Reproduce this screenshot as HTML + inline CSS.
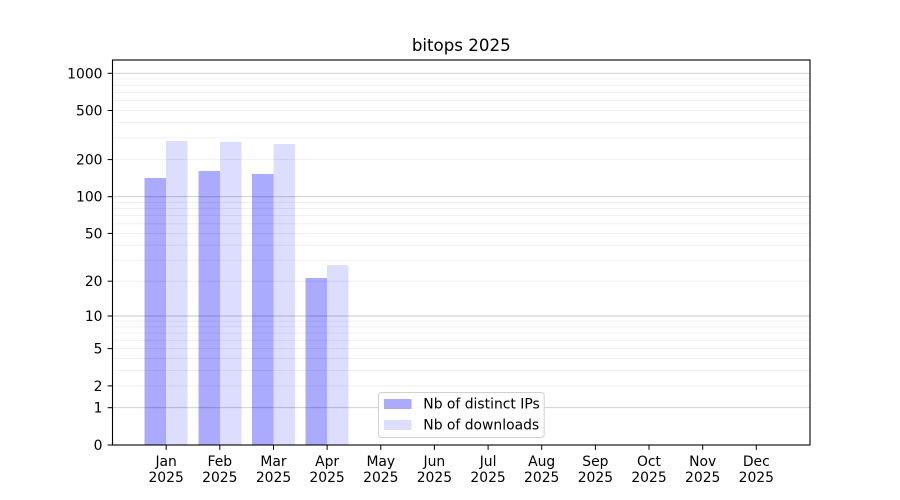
<!DOCTYPE html>
<html><head><meta charset="utf-8"><style>
html,body{margin:0;padding:0;background:#fff;}
svg{display:block;font-family:"DejaVu Sans","Liberation Sans",sans-serif;}
</style></head><body>
<svg width="900" height="500" viewBox="0 0 900 500" xmlns="http://www.w3.org/2000/svg">
<rect width="900" height="500" fill="#fff"/>
<!-- bars -->
<g shape-rendering="crispEdges">
<rect x="144.7" y="178" width="21.45" height="267" fill="#aaaaff"/>
<rect x="166.15" y="141" width="21.45" height="304" fill="#ddddff"/>
<rect x="198.35" y="171" width="21.45" height="274" fill="#aaaaff"/>
<rect x="219.8" y="142" width="21.45" height="303" fill="#ddddff"/>
<rect x="252.05" y="174" width="21.45" height="271" fill="#aaaaff"/>
<rect x="273.5" y="144" width="21.45" height="301" fill="#ddddff"/>
<rect x="305.65" y="278" width="21.45" height="167" fill="#aaaaff"/>
<rect x="327.1" y="265" width="21.45" height="180" fill="#ddddff"/>
</g>
<!-- minor grid -->
<g stroke="rgba(0,0,0,0.075)" stroke-width="0.8">
<line x1="112.5" x2="810" y1="385.9" y2="385.9"/>
<line x1="112.5" x2="810" y1="370.4" y2="370.4"/>
<line x1="112.5" x2="810" y1="358.4" y2="358.4"/>
<line x1="112.5" x2="810" y1="348.6" y2="348.6"/>
<line x1="112.5" x2="810" y1="340.3" y2="340.3"/>
<line x1="112.5" x2="810" y1="333.1" y2="333.1"/>
<line x1="112.5" x2="810" y1="326.8" y2="326.8"/>
<line x1="112.5" x2="810" y1="321.1" y2="321.1"/>
<line x1="112.5" x2="810" y1="281.2" y2="281.2"/>
<line x1="112.5" x2="810" y1="260.2" y2="260.2"/>
<line x1="112.5" x2="810" y1="245.2" y2="245.2"/>
<line x1="112.5" x2="810" y1="233.4" y2="233.4"/>
<line x1="112.5" x2="810" y1="223.8" y2="223.8"/>
<line x1="112.5" x2="810" y1="215.6" y2="215.6"/>
<line x1="112.5" x2="810" y1="208.5" y2="208.5"/>
<line x1="112.5" x2="810" y1="202.3" y2="202.3"/>
<line x1="112.5" x2="810" y1="159.6" y2="159.6"/>
<line x1="112.5" x2="810" y1="137.9" y2="137.9"/>
<line x1="112.5" x2="810" y1="122.5" y2="122.5"/>
<line x1="112.5" x2="810" y1="110.5" y2="110.5"/>
<line x1="112.5" x2="810" y1="100.7" y2="100.7"/>
<line x1="112.5" x2="810" y1="92.4" y2="92.4"/>
<line x1="112.5" x2="810" y1="85.2" y2="85.2"/>
<line x1="112.5" x2="810" y1="78.9" y2="78.9"/>
</g>
<!-- major grid -->
<g stroke="rgba(0,0,0,0.22)" stroke-width="0.9">
<line x1="112.5" x2="810" y1="407.7" y2="407.7"/>
<line x1="112.5" x2="810" y1="316.0" y2="316.0"/>
<line x1="112.5" x2="810" y1="196.7" y2="196.7"/>
<line x1="112.5" x2="810" y1="73.3" y2="73.3"/>
</g>
<!-- axes frame -->
<rect x="112.5" y="60" width="697.5" height="385" fill="none" stroke="#000" stroke-width="1.1"/>
<!-- y ticks -->
<g stroke="#000" stroke-width="1">
<line x1="107.6" x2="112.5" y1="445" y2="445"/>
<line x1="107.6" x2="112.5" y1="407.7" y2="407.7"/>
<line x1="107.6" x2="112.5" y1="385.9" y2="385.9"/>
<line x1="107.6" x2="112.5" y1="348.6" y2="348.6"/>
<line x1="107.6" x2="112.5" y1="316.0" y2="316.0"/>
<line x1="107.6" x2="112.5" y1="281.2" y2="281.2"/>
<line x1="107.6" x2="112.5" y1="233.4" y2="233.4"/>
<line x1="107.6" x2="112.5" y1="196.7" y2="196.7"/>
<line x1="107.6" x2="112.5" y1="159.6" y2="159.6"/>
<line x1="107.6" x2="112.5" y1="110.5" y2="110.5"/>
<line x1="107.6" x2="112.5" y1="73.3" y2="73.3"/>
</g>
<g font-size="13.9" fill="#000" text-anchor="end">
<text x="102.5" y="450">0</text>
<text x="102.5" y="412.7">1</text>
<text x="102.5" y="390.9">2</text>
<text x="102.5" y="353.6">5</text>
<text x="102.5" y="321">10</text>
<text x="102.5" y="286.2">20</text>
<text x="102.5" y="238.4">50</text>
<text x="102.5" y="201.7">100</text>
<text x="102.5" y="164.6">200</text>
<text x="102.5" y="115.5">500</text>
<text x="102.5" y="78.3">1000</text>
</g>
<!-- x ticks -->
<g stroke="#000" stroke-width="1">
<line x1="166.15" x2="166.15" y1="445" y2="449.9"/>
<line x1="219.8" x2="219.8" y1="445" y2="449.9"/>
<line x1="273.5" x2="273.5" y1="445" y2="449.9"/>
<line x1="327.1" x2="327.1" y1="445" y2="449.9"/>
<line x1="380.8" x2="380.8" y1="445" y2="449.9"/>
<line x1="434.4" x2="434.4" y1="445" y2="449.9"/>
<line x1="488.1" x2="488.1" y1="445" y2="449.9"/>
<line x1="541.7" x2="541.7" y1="445" y2="449.9"/>
<line x1="595.4" x2="595.4" y1="445" y2="449.9"/>
<line x1="649.0" x2="649.0" y1="445" y2="449.9"/>
<line x1="702.7" x2="702.7" y1="445" y2="449.9"/>
<line x1="756.3" x2="756.3" y1="445" y2="449.9"/>
</g>
<g font-size="13.9" fill="#000" text-anchor="middle">
<text x="166.15" y="466">Jan</text><text x="166.15" y="482">2025</text>
<text x="219.8" y="466">Feb</text><text x="219.8" y="482">2025</text>
<text x="273.5" y="466">Mar</text><text x="273.5" y="482">2025</text>
<text x="327.1" y="466">Apr</text><text x="327.1" y="482">2025</text>
<text x="380.8" y="466">May</text><text x="380.8" y="482">2025</text>
<text x="434.4" y="466">Jun</text><text x="434.4" y="482">2025</text>
<text x="488.1" y="466">Jul</text><text x="488.1" y="482">2025</text>
<text x="541.7" y="466">Aug</text><text x="541.7" y="482">2025</text>
<text x="595.4" y="466">Sep</text><text x="595.4" y="482">2025</text>
<text x="649.0" y="466">Oct</text><text x="649.0" y="482">2025</text>
<text x="702.7" y="466">Nov</text><text x="702.7" y="482">2025</text>
<text x="756.3" y="466">Dec</text><text x="756.3" y="482">2025</text>
</g>
<!-- title -->
<text x="461.25" y="51" font-size="16.67" text-anchor="middle" fill="#000">bitops 2025</text>
<!-- legend -->
<rect x="378.5" y="392.5" width="165.7" height="45" rx="3" ry="3" fill="rgba(255,255,255,0.9)" stroke="#d0d0d0" stroke-width="1"/>
<rect x="384" y="399" width="27.5" height="10" fill="#aaaaff"/>
<rect x="384" y="420" width="27.5" height="10" fill="#ddddff"/>
<g font-size="13.9" fill="#000">
<text x="423.3" y="408.5">Nb of distinct IPs</text>
<text x="423.3" y="429.5">Nb of downloads</text>
</g>
</svg>
</body></html>
